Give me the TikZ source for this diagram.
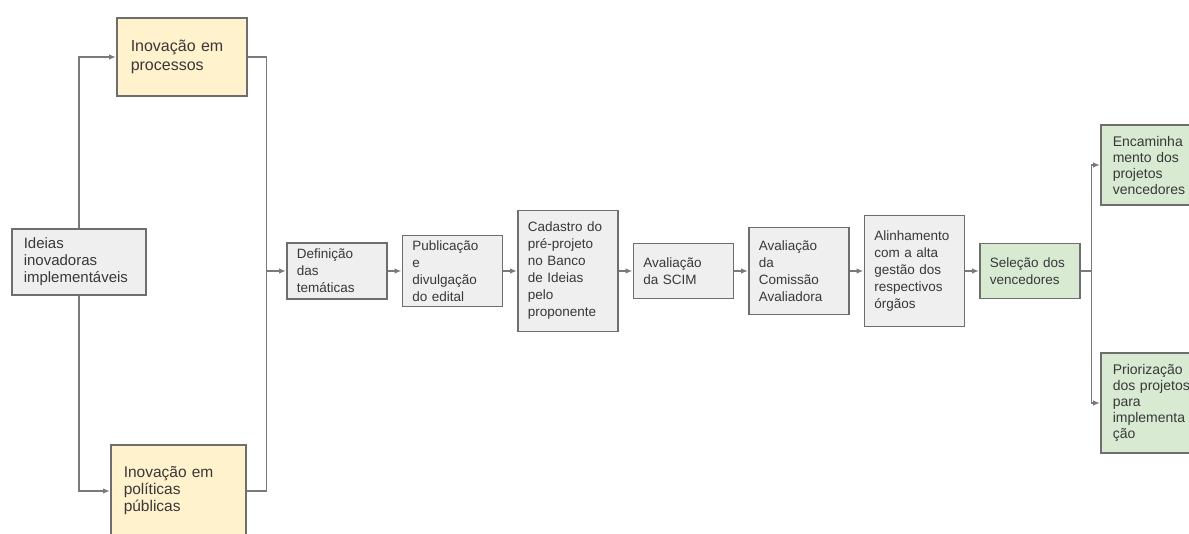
\documentclass[tikz,border=0pt]{standalone}
\usepackage{fontspec}
\setmainfont{Liberation Sans}
\usepackage{xcolor}
\usepackage{tikz}
\usetikzlibrary{arrows.meta,positioning,calc}
\definecolor{boxgray}{HTML}{EFEFEF}
\definecolor{edgegray}{HTML}{6E6E6E}
\definecolor{lineg}{HTML}{7A7A7A}
\definecolor{ideayellow}{HTML}{FFF2CC}
\definecolor{resgreen}{HTML}{D9EAD3}

\begin{document}
\begin{tikzpicture}[x=1pt,y=-1pt,>={Latex[length=7pt,width=5.5pt]},node distance=14pt]
\tikzstyle{blk}=[draw=edgegray,line width=1.5pt,fill=boxgray,align=left,anchor=west,text width=80pt,inner xsep=10pt,inner ysep=0pt,text=black!78,font=\fontsize{13.5}{17}\selectfont]
\tikzstyle{conn}=[draw=lineg,line width=1.6pt]
\useasboundingbox (0,0) rectangle (1189,533);
% entrada e tipos de inovacao
\node[blk,text width=110pt,inner xsep=12pt,minimum height=66pt,font=\fontsize{15}{17}\selectfont] (ideias) at (11,262) {Ideias\\inovadoras\\implementáveis};
\node[blk,fill=ideayellow,text width=102pt,inner xsep=14pt,minimum height=78pt,font=\fontsize{16}{19}\selectfont] (proc) at (116,57) {Inovação em\\processos};
\node[blk,fill=ideayellow,text width=109pt,inner xsep=13pt,minimum height=92pt,font=\fontsize{15.5}{17}\selectfont] (pol) at (110,491) {Inovação em\\políticas\\públicas};
% etapas
\node[blk,minimum height=56pt] (def) at (286,271) {Definição\\das\\temáticas};
\node[blk,right=of def,minimum height=71pt] (pub) {Publicação\\e\\divulgação\\do edital};
\node[blk,right=of pub,minimum height=121pt] (cad) {Cadastro do\\pré-projeto\\no Banco\\de Ideias\\pelo\\proponente};
\node[blk,right=of cad,minimum height=55pt] (scim) {Avaliação\\da SCIM};
\node[blk,right=of scim,minimum height=87pt] (com) {Avaliação\\da\\Comissão\\Avaliadora};
\node[blk,right=of com,minimum height=111pt] (alin) {Alinhamento\\com a alta\\gestão dos\\respectivos\\órgãos};
\node[blk,right=of alin,fill=resgreen,minimum height=55pt] (sel) {Seleção dos\\vencedores};
% resultados
\node[blk,fill=resgreen,text width=84pt,inner xsep=12pt,minimum height=80pt,font=\fontsize{14}{16}\selectfont] (enc) at (1100,165) {Encaminha\\mento dos\\projetos\\vencedores};
\node[blk,fill=resgreen,text width=84pt,inner xsep=12pt,minimum height=100pt,font=\fontsize{14}{16}\selectfont] (pri) at (1100,403) {Priorização\\dos projetos\\para\\implementa\\ção};
% ligacoes
\draw[conn,->] (ideias.north) |- (proc.west);
\draw[conn,->] (ideias.south) |- (pol.west);
\coordinate (join) at ($(proc.east)+(19,0)$);
\draw[conn] (proc.east) -- (join) |- (pol.east);
\draw[conn,->] (join |- def.west) -- (def.west);
\draw[conn,->] (def) -- (pub);
\draw[conn,->] (pub) -- (cad);
\draw[conn,->] (cad) -- (scim);
\draw[conn,->] (scim) -- (com);
\draw[conn,->] (com) -- (alin);
\draw[conn,->] (alin) -- (sel);
\coordinate (split) at ($(sel.east)+(11,0)$);
\draw[conn] (sel.east) -- (split);
\draw[conn,->] (split) |- (enc.west);
\draw[conn,->] (split) |- (pri.west);
\end{tikzpicture}
\end{document}
